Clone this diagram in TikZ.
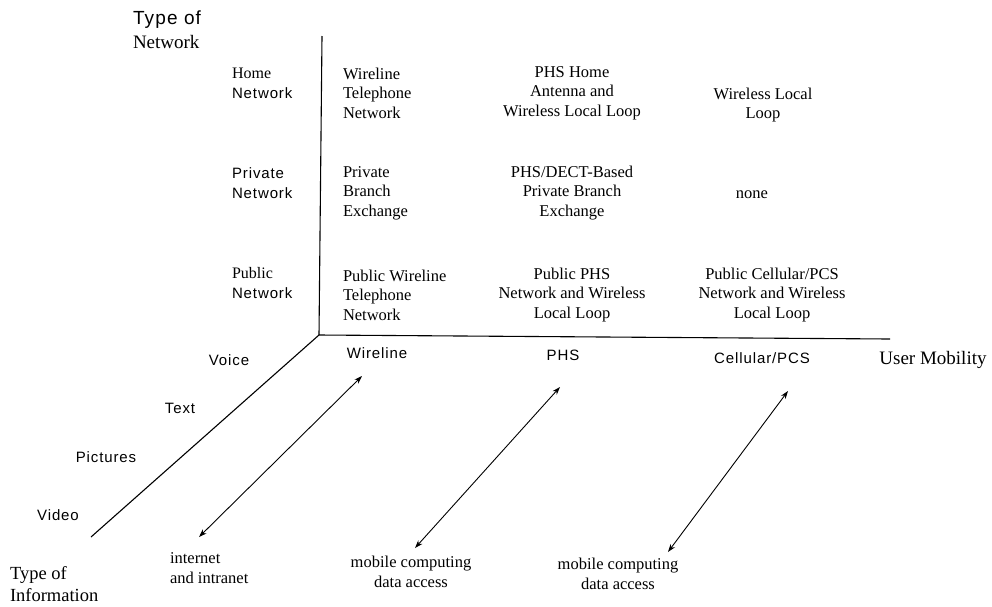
\documentclass[tikz,border=0pt]{standalone}
\usepackage{fontspec}
\setmainfont{Liberation Serif}
\newfontfamily\hsans[LetterSpace=6]{Liberation Sans}
\usetikzlibrary{arrows.meta}

\begin{document}
\begin{tikzpicture}[x=1pt,y=-1pt,
  every node/.style={inner sep=0pt,outer sep=0pt},
  ser/.style={font=\fontsize{16.5}{19.5}\selectfont},
  sns/.style={font=\hsans\fontsize{15}{19.5}\selectfont},
  axtitle/.style={font=\fontsize{19}{23}\selectfont},
  axisline/.style={line width=1.1pt},
  link/.style={line width=0.9pt,{Stealth[length=8pt,width=5.5pt]}-{Stealth[length=8pt,width=5.5pt]}}]

\path[use as bounding box] (0,0) rectangle (992,606);

% axes
\coordinate (O) at (319,335);
\coordinate (ytop) at (322,36);
\coordinate (xend) at (890,339);
\coordinate (zend) at (91,537);
\draw[axisline] (ytop) -- (O) -- (xend);
\draw[axisline] (O) -- (zend);

% axis titles
\node[anchor=west,align=left,font=\fontsize{19}{24}\selectfont] (tnet) at (133,30)
  {{\hsans Type of}\\Network};
\node[axtitle] (umob) at (933,360) {User Mobility};
\node[anchor=west,align=left,font=\fontsize{18.5}{22}\selectfont] (tinf) at (10,584)
  {Type of\\Information};

% network types
\node[anchor=west,align=left,font=\fontsize{16}{20.5}\selectfont] (home) at (232,83.5)
  {Home\\{\hsans\fontsize{15}{20.5}\selectfont Network}};
\node[anchor=west,align=left,sns] (priv) at (232,183)
  {Private\\Network};
\node[anchor=west,align=left,font=\fontsize{16}{20.5}\selectfont] (publ) at (232,283)
  {Public\\{\hsans\fontsize{15}{20.5}\selectfont Network}};

% user mobility classes
\node[sns] (mwire) at (377,353) {Wireline};
\node[sns] (mphs) at (563,355) {PHS};
\node[sns] (mcell) at (762,358) {Cellular/PCS};

% information types
\node[sns] (voice) at (229,360) {Voice};
\node[sns] (text) at (180,408) {Text};
\node[sns] (pict) at (106,457) {Pictures};
\node[sns] (video) at (58,515) {Video};

% wireline column
\node[ser,anchor=west,align=left] (c11) at (343,93) {Wireline\\Telephone\\Network};
\node[ser,anchor=west,align=left] (c12) at (343,193) {Private\\Branch\\Exchange};
\node[ser,anchor=west,align=left] (c13) at (343,295) {Public Wireline\\Telephone\\Network};

% PHS column
\node[ser,align=center] (c21) at (572,93) {PHS Home\\Antenna and\\Wireless Local Loop};
\node[ser,align=center] (c22) at (572,193) {PHS/DECT-Based\\Private Branch\\Exchange};
\node[ser,align=center] (c23) at (572,295) {Public PHS\\Network and Wireless\\Local Loop};

% cellular column
\node[ser,align=center] (c31) at (763,105) {Wireless Local\\Loop};
\node[ser] (c32) at (752,195) {none};
\node[ser,align=center] (c33) at (772,295) {Public Cellular/PCS\\Network and Wireless\\Local Loop};

% data services
\node[ser,anchor=west,align=left] (inet) at (170,568) {internet\\and intranet};
\node[ser,align=center] (mob1) at (411,572) {mobile computing\\data access};
\node[ser,align=center] (mob2) at (618,574) {mobile computing\\data access};

% links between mobility and data services
\coordinate (a1t) at (362,376);
\coordinate (a1b) at (199,537);
\coordinate (a2t) at (560,387);
\coordinate (a2b) at (415,548);
\coordinate (a3t) at (788,391);
\coordinate (a3b) at (668,552);
\draw[link] (a1b) -- (a1t);
\draw[link] (a2b) -- (a2t);
\draw[link] (a3b) -- (a3t);
\end{tikzpicture}
\end{document}
